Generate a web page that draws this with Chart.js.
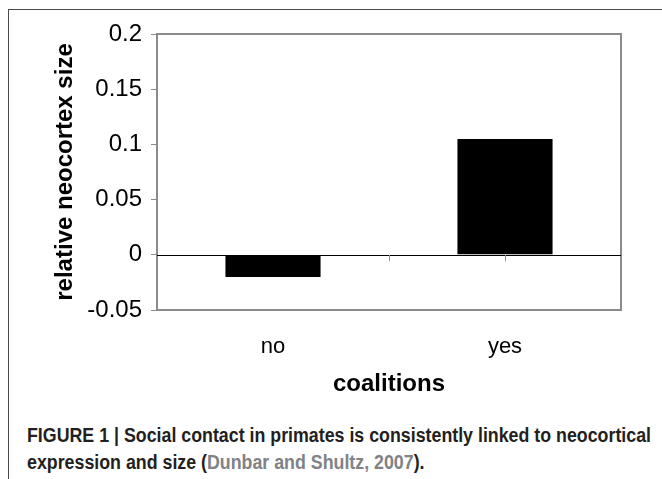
<!DOCTYPE html>
<html>
<head>
<meta charset="utf-8">
<script src="https://cdn.jsdelivr.net/npm/chart.js@4.4.1/dist/chart.umd.min.js"></script>
<style>
  html, body { margin: 0; padding: 0; background: #fff; }
  body { width: 662px; height: 479px; position: relative; overflow: hidden; }
  #frame { position: absolute; left: 8px; top: 9px; right: -2px; bottom: -2px;
           border-top: 1px solid #4a4a4a; border-left: 1px solid #4a4a4a; }
  #wrap { position: absolute; left: 0; top: 0; width: 662px; height: 400px; }
  #caption { position: absolute; left: 27px; top: 422px; font-family: "Liberation Sans Narrow", "Liberation Sans", Arial, sans-serif;
             font-weight: bold; font-size: 20px; line-height: 27px; color: #231f20; white-space: nowrap; }
  #caption .line { display: inline-block; transform-origin: 0 0; }
  #caption .cite { color: #808285; }
</style>
</head>
<body>
<div id="frame"></div>
<div id="wrap"><canvas id="c" width="662" height="400"></canvas></div>
<div id="caption">
  <span class="line" id="l1">FIGURE 1 | Social contact in primates is consistently linked to neocortical</span><br>
  <span class="line" id="l2">expression and size (<span class="cite">Dunbar and Shultz, 2007</span>).</span>
</div>
<script>
const categories = ["no", "yes"];
const values = [-0.02, 0.105];
const yTicks = [-0.05, 0, 0.05, 0.1, 0.15, 0.2];
const yTickLabels = ["-0.05", "0", "0.05", "0.1", "0.15", "0.2"];
const xTitle = "coalitions";
const yTitle = "relative neocortex size";

const boxPlugin = {
  id: 'box',
  afterDraw(chart) {
    const {ctx, chartArea: a, scales} = chart;
    ctx.save();
    ctx.strokeStyle = '#8a8a8a';
    ctx.lineWidth = 2;
    ctx.strokeRect(a.left, a.top, a.right - a.left, a.bottom - a.top);
    const y0 = scales.y.getPixelForValue(0);
    ctx.strokeStyle = '#000';
    ctx.lineWidth = 1;
    ctx.beginPath();
    ctx.moveTo(a.left, Math.round(y0) + 0.5);
    ctx.lineTo(a.right, Math.round(y0) + 0.5);
    ctx.stroke();
    const p0 = scales.x.getPixelForValue(0), p1 = scales.x.getPixelForValue(1);
    ctx.strokeStyle = '#8a8a8a';
    ctx.beginPath();
    [ (p0 + p1) / 2, p1 ].forEach(px => {
      ctx.moveTo(Math.round(px) + 0.5, y0);
      ctx.lineTo(Math.round(px) + 0.5, y0 + 6);
    });
    ctx.stroke();
    ctx.restore();
  }
};

new Chart(document.getElementById('c'), {
  type: 'bar',
  data: {
    labels: categories,
    datasets: [{
      data: values,
      backgroundColor: '#000',
      borderWidth: 0,
      barPercentage: 0.41,
      categoryPercentage: 1.0
    }]
  },
  options: {
    responsive: false,
    animation: false,
    layout: { padding: { left: 0, right: 41, top: 34, bottom: 0 } },
    plugins: { legend: { display: false }, tooltip: { enabled: false } },
    scales: {
      x: {
        afterFit(s) { s.height = 90; },
        grid: { display: false, drawTicks: false },
        border: { display: false },
        ticks: { color: '#000', padding: 24, font: { family: 'Liberation Sans, Arial, sans-serif', size: 22 } },
        title: { display: true, text: xTitle, color: '#000', padding: { top: 0, bottom: 1 },
                 font: { family: 'Liberation Sans, Arial, sans-serif', size: 24, weight: 'bold' } }
      },
      y: {
        min: -0.05, max: 0.2,
        afterFit(s) { s.width = 157; },
        afterBuildTicks(s) { s.ticks = yTicks.map(v => ({ value: v })); },
        grid: { drawOnChartArea: false, drawTicks: true, tickLength: 6, tickColor: '#8a8a8a', color: '#8a8a8a' },
        border: { display: false },
        ticks: {
          color: '#000', padding: 9,
          font: { family: 'Liberation Sans, Arial, sans-serif', size: 24 },
          callback(v) { const i = yTicks.findIndex(t => Math.abs(t - v) < 1e-9); return i >= 0 ? yTickLabels[i] : ''; }
        },
        title: { display: true, text: yTitle, color: '#000', padding: { top: 51, bottom: 0 },
                 font: { family: 'Liberation Sans, Arial, sans-serif', size: 24, weight: 'bold' } }
      }
    }
  },
  plugins: [boxPlugin]
});

(function fit() {
  const l1 = document.getElementById('l1'), l2 = document.getElementById('l2');
  const w = l1.getBoundingClientRect().width;
  const k = 624 / w;
  l1.style.transform = 'scaleX(' + k + ')';
  l2.style.transform = 'scaleX(' + k + ')';
})();
</script>
</body>
</html>
